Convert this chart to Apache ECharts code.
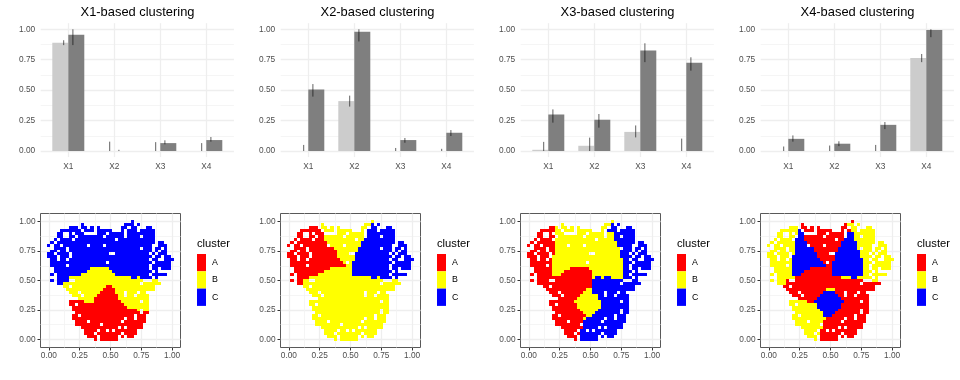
<!DOCTYPE html>
<html>
<head>
<meta charset="utf-8">
<script src="https://cdn.jsdelivr.net/npm/echarts@6/dist/echarts.min.js"></script>
<style>
  html, body { margin: 0; padding: 0; background: #fff; }
  #main { width: 960px; height: 380px; }
</style>
</head>
<body>
<div id="main"></div>
<script>
var variables = ['X1', 'X2', 'X3', 'X4'];
var titles = ['X1-based clustering', 'X2-based clustering', 'X3-based clustering', 'X4-based clustering'];
var clusterNames = ['A', 'B', 'C'];
var clusterColors = ['#ff0000', '#ffff00', '#0000ff'];

// mean of each variable, [light, dark] for every panel
var lightValues = [[0.89, 0, 0, 0], [0, 0.41, 0, 0], [0.01, 0.043, 0.157, 0], [0, 0, 0, 0.765]];
var darkValues = [[0.955, 0, 0.065, 0.09], [0.505, 0.98, 0.09, 0.15], [0.30, 0.257, 0.825, 0.725], [0.10, 0.06, 0.215, 0.995]];
var lightLow = [[0.87, 0, 0, 0], [0, 0.365, 0, 0], [0, 0, 0.112, 0], [0, 0, 0, 0.73]];
var lightHigh = [[0.91, 0.077, 0.073, 0.065], [0.05, 0.455, 0.025, 0.018], [0.075, 0.11, 0.21, 0.102], [0.037, 0.045, 0.05, 0.797]];
var darkLow = [[0.87, 0, 0.055, 0.077], [0.447, 0.90, 0.068, 0.123], [0.233, 0.192, 0.73, 0.66], [0.077, 0.04, 0.18, 0.935]];
var darkHigh = [[1.0, 0.01, 0.088, 0.115], [0.55, 1.0, 0.107, 0.172], [0.342, 0.304, 0.885, 0.77], [0.128, 0.08, 0.238, 1.0]];

// occupied columns of each row of the 41x41 cell grid, top row first
var occupied = [
  '27',
  '11 25-27 29',
  '7-9 11-12 14 16 24-25 27-28 32-33',
  '4-10 12-14 16-20 24 26-28 30-34',
  '3-4 7 9-11 16-18 20-24 26-34',
  '3-4 7-8 10-17 19-24 26-29 31-34',
  '2 4-7 9-21 23-34',
  '1 3-34 36-37',
  '0 2-3 5-12 14-17 19-33 36-38',
  '2-5 7-29 31-33 35-36 38',
  '1-2 4-5 7-33 35 37-38',
  '0-1 3-6 8-19 22-32 34 36-38',
  '0-2 4-6 8-33 35-36 38-39',
  '1-2 4-5 7-32 34-35 38-40',
  '1-18 20-33 35-39',
  '1-5 7-32 34-39',
  '2-32 34-35 37-39',
  '2-33 35',
  '1 3-32 34-38',
  '3-33 35',
  '1 3-6 9-30 34-35',
  '3-29 31-36',
  '5-6 8-34',
  '6-34',
  '7-9 11-24 26-28 30-31',
  '8-10 12-24 26-27 29-32',
  '10-32',
  '7-29 31-32',
  '7-8 10-32',
  '8-32',
  '8-29 31-32',
  '9-29 31-32',
  '8-9 11-27 29-31',
  '8-24 26-27 29-31',
  '9-12 14-23 25-31',
  '9-16 18-30',
  '11-22 24 26-30',
  '12-15 17-18 20 22-28',
  '12-14 16-23 25-28',
  '13-15 17-22 24 26-27',
  '15 17-22'
];

// cluster of each row: label + first column of the run
var labelsX1 = [
  'C0', 'C0', 'C0', 'C0', 'C0', 'C0', 'C0', 'C0', 'C0', 'C0', 'C0', 'C0', 'C0', 'C0', 'C0', 'C0',
  'C0 B14 C20', 'C0 B13 C21', 'C0 B11 C22', 'C0 B7 C27 B29 C30', 'C0 B7', 'C0 B5',
  'B0 A19 B21', 'B0 A18 B22', 'B0 A17 B22', 'B0 A16 B23', 'B0 A15 B23',
  'A0 B12 A15 B24', 'A0 B25', 'A0 B26', 'A0 B29', 'A0 B30 A31',
  'A0', 'A0', 'A0', 'A0', 'A0', 'A0', 'A0', 'A0', 'A0'
];
var labelsX2 = [
  'B0', 'B0 C27', 'A0 B11 C27', 'A0 B11 C26', 'A0 B12 C26', 'A0 B12 C25', 'A0 B12 C25', 'A0 B13 C24',
  'A0 B14 C24', 'A0 B15 C23', 'A0 B16 C23', 'A0 B16 C22', 'A0 B16 C22', 'A0 B17 C22', 'A0 B18 C21', 'A0 B19 C21',
  'A0 B14 C21', 'A0 B12 C21', 'A0 B10 C21', 'A0 B7 C27 B29 C30', 'A0 B5', 'A0 B5',
  'B0', 'B0', 'B0', 'B0', 'B0', 'B0', 'B0', 'B0', 'B0', 'B0', 'B0', 'B0', 'B0', 'B0', 'B0', 'B0', 'B0', 'B0', 'B0'
];
var labelsX3 = [
  'B0', 'B0 C27', 'A0 B9 C27', 'A0 B9 C26', 'A0 B9 C28', 'A0 B9 C28', 'A0 B9 C28', 'A0 B9 C29',
  'A0 B9 C29', 'A0 B9 C30', 'A0 B9 C30', 'A0 B9 C30', 'A0 B8 C30', 'A0 B8 C31', 'A0 B8 C31', 'A0 B8 C31',
  'A0 B8 A14 B20 C31', 'A0 B8 A12 B21 C31', 'A0 B8 A11 B21 C31', 'A0 B21 C22 B24 C25 B27 C31',
  'A0 C21', 'A0 C21', 'A0 C21', 'A0 B19 C21', 'A0 B18 C21', 'A0 B17 C23', 'A0 B16 C23',
  'A0 B15 C24', 'A0 B16 C24', 'A0 B16 C24', 'A0 B17 C23', 'A0 B18 C22', 'A0 B19 C21', 'A0 B18 C19',
  'A0 C18', 'A0 C18', 'A0 C18', 'A0 C17', 'A0 C17', 'A0 C17', 'A0 C17'
];
var labelsX4 = [
  'A0', 'A0 B26', 'B0 A11 B27', 'B0 C10 A11 B27', 'B0 C10 A12 C26 B28', 'B0 C9 A12 C26 B28', 'B0 C9 A12 C25 B28', 'B0 C9 A13 C24 B29',
  'B0 C9 A14 C24 B29', 'B0 C9 A15 C23 B29', 'B0 C9 A15 C23 B30', 'B0 C9 A16 C22 B30', 'B0 C8 A16 C22 B30', 'B0 C8 A17 C22 B31', 'B0 C8 A18 C21 B31', 'B0 C8 A19 C21 B31',
  'B0 C8 A14 C21 B31', 'B0 C8 A12 C21 B31', 'B0 C8 A11 C21 B31', 'B0 A9 B24 C27 B29',
  'B0 A6 B34', 'B0 A6', 'A0', 'A0 B19 A22', 'A0 C18 A22', 'A0 C17 A23', 'A0 C16 A24',
  'B0 A13 C15 A25', 'B0 C16 A24', 'B0 C16 A24', 'B0 C17 A23', 'B0 C18 A22', 'B0 C18 A21', 'B0 A19',
  'B0 A18', 'B0 A18', 'B0 A18', 'B0 A17', 'B0 A17', 'B0 A17', 'B0 A17'
];
var panelLabels = [labelsX1, labelsX2, labelsX3, labelsX4];

var barMajor = [0, 0.25, 0.5, 0.75, 1];
var barMinor = [0.125, 0.375, 0.625, 0.875];
var cellStep = 1 / 40;
var font = 'Liberation Sans';
var labelColor = '#4d4d4d';
var majorLine = { color: '#eeeeee', width: 1.3 };
var minorLine = { color: '#f3f3f3', width: 0.8 };

function parseOccupied(text) {
  var cols = [];
  text.split(' ').forEach(function (part) {
    var ends = part.split('-').map(Number);
    var last = ends.length > 1 ? ends[1] : ends[0];
    for (var c = ends[0]; c <= last; c++) cols.push(c);
  });
  return cols;
}

function labelAt(text, col) {
  var label = null;
  text.split(' ').forEach(function (run) {
    if (+run.slice(1) <= col) label = run[0];
  });
  return label;
}

function cellsFor(labels, cluster) {
  var out = [];
  occupied.forEach(function (row, r) {
    parseOccupied(row).forEach(function (c) {
      if (labelAt(labels[r], c) === cluster) out.push([c * cellStep, 1 - r * cellStep]);
    });
  });
  return out;
}

function renderCell(params, api) {
  var p0 = api.coord([api.value(0) - cellStep / 2, api.value(1) + cellStep / 2]);
  var p1 = api.coord([api.value(0) + cellStep / 2, api.value(1) - cellStep / 2]);
  var x0 = Math.round(p0[0]), y0 = Math.round(p0[1]);
  return {
    type: 'rect',
    shape: { x: x0, y: y0, width: Math.round(p1[0]) - x0, height: Math.round(p1[1]) - y0 },
    style: { fill: api.visual('color') }
  };
}

function renderError(dx) {
  return function (params, api) {
    var low = api.coord([api.value(0) + dx, api.value(1)]);
    var high = api.coord([api.value(0) + dx, api.value(2)]);
    return {
      type: 'line',
      shape: { x1: low[0], y1: low[1], x2: high[0], y2: high[1] },
      style: { stroke: 'rgba(0,0,0,0.62)', lineWidth: 1 }
    };
  };
}

function textAxis(size) {
  return { color: labelColor, fontSize: size, fontFamily: font };
}

function mainAxis(position, gridIndex, range, ticks, margin, tickShow, formatter) {
  return {
    type: 'value', gridIndex: gridIndex, position: position, min: range[0], max: range[1],
    axisLine: { show: false, onZero: false },
    axisTick: { show: tickShow, length: 3, customValues: ticks, lineStyle: { color: '#333', width: 1 } },
    axisLabel: Object.assign(textAxis(8.3), { customValues: ticks, margin: margin, formatter: formatter }),
    splitLine: { show: true, lineStyle: majorLine }
  };
}

function minorAxis(position, gridIndex, range, breaks) {
  return {
    type: 'value', gridIndex: gridIndex, position: position, min: range[0], max: range[1],
    axisLine: { show: false, onZero: false }, axisTick: { show: false, customValues: breaks },
    axisLabel: { show: false, customValues: breaks },
    splitLine: { show: true, lineStyle: minorLine }
  };
}

function fixed2(v) {
  return v.toFixed(2);
}

var option = {
  animation: false,
  backgroundColor: '#fff',
  title: [], grid: [], xAxis: [], yAxis: [], legend: [], series: []
};

function addAxes(axis, main, minor) {
  if (minor) axis.push(minor);
  axis.push(main);
  return axis.length - 1;
}

titles.forEach(function (title, i) {
  var off = 240 * i;
  option.title.push({
    text: title, left: off + 137.5, top: 6, padding: 0, textAlign: 'center',
    textStyle: { fontFamily: font, fontSize: 12.9, fontWeight: 'normal', color: '#000' }
  });

  // bar panel
  var g = option.grid.length;
  option.grid.push({ left: off + 40.7, top: 23.2, width: 193.2, height: 133.9 });
  var xi = addAxes(option.xAxis, mainAxis('bottom', g, [0.4, 4.6], [1, 2, 3, 4], 5.5, false, function (v) {
    return variables[Math.round(v) - 1];
  }));
  var yi = addAxes(option.yAxis, mainAxis('left', g, [-0.05, 1.05], barMajor, 5.5, false, fixed2),
    minorAxis('right', g, [-0.05, 1.05], barMinor));

  function pairs(vals) { return vals.map(function (v, k) { return [k + 1, v]; }); }
  function errs(lo, hi) { return lo.map(function (v, k) { return [k + 1, v, hi[k]]; }); }
  option.series.push(
    { type: 'bar', xAxisIndex: xi, yAxisIndex: yi, data: pairs(lightValues[i]), barWidth: 16, barGap: 0, itemStyle: { color: '#cccccc' }, silent: true },
    { type: 'bar', xAxisIndex: xi, yAxisIndex: yi, data: pairs(darkValues[i]), barWidth: 16, barGap: 0, itemStyle: { color: '#7f7f7f' }, silent: true },
    { type: 'custom', xAxisIndex: xi, yAxisIndex: yi, data: errs(lightLow[i], lightHigh[i]), renderItem: renderError(-0.1), encode: { x: 0, y: [1, 2] }, z: 5, silent: true },
    { type: 'custom', xAxisIndex: xi, yAxisIndex: yi, data: errs(darkLow[i], darkHigh[i]), renderItem: renderError(0.1), encode: { x: 0, y: [1, 2] }, z: 5, silent: true }
  );

  // cell panel
  g = option.grid.length;
  option.grid.push({ left: off + 40.5, top: 213.5, width: 140, height: 134, show: true, borderColor: '#595959', borderWidth: 1, backgroundColor: 'transparent' });
  xi = addAxes(option.xAxis, mainAxis('bottom', g, [-0.068, 1.068], barMajor, 4, true, fixed2),
    minorAxis('top', g, [-0.068, 1.068], barMinor));
  yi = addAxes(option.yAxis, mainAxis('left', g, [-0.068, 1.068], barMajor, 5, true, fixed2),
    minorAxis('right', g, [-0.068, 1.068], barMinor));

  clusterNames.forEach(function (name, k) {
    option.series.push({
      type: 'custom', name: name, xAxisIndex: xi, yAxisIndex: yi,
      data: cellsFor(panelLabels[i], name), renderItem: renderCell,
      encode: { x: 0, y: 1 }, itemStyle: { color: clusterColors[k] }, silent: true, z: 3
    });
  });

  // legend, one per panel
  option.title.push({
    text: 'cluster', left: off + 197, top: 238, padding: 0,
    textStyle: { fontFamily: font, fontSize: 11.2, fontWeight: 'normal', color: '#000' }
  });
  option.legend.push({
    left: off + 197, top: 254, orient: 'vertical', padding: 0,
    itemWidth: 9, itemHeight: 17.3, itemGap: 0, icon: 'rect', selectedMode: false,
    data: clusterNames, textStyle: { fontFamily: font, fontSize: 8.8, color: '#000', padding: [0, 0, 0, 1] }
  });
});

var myChart = echarts.init(document.getElementById('main'), null, { renderer: 'canvas' });
myChart.setOption(option);
</script>
</body>
</html>
